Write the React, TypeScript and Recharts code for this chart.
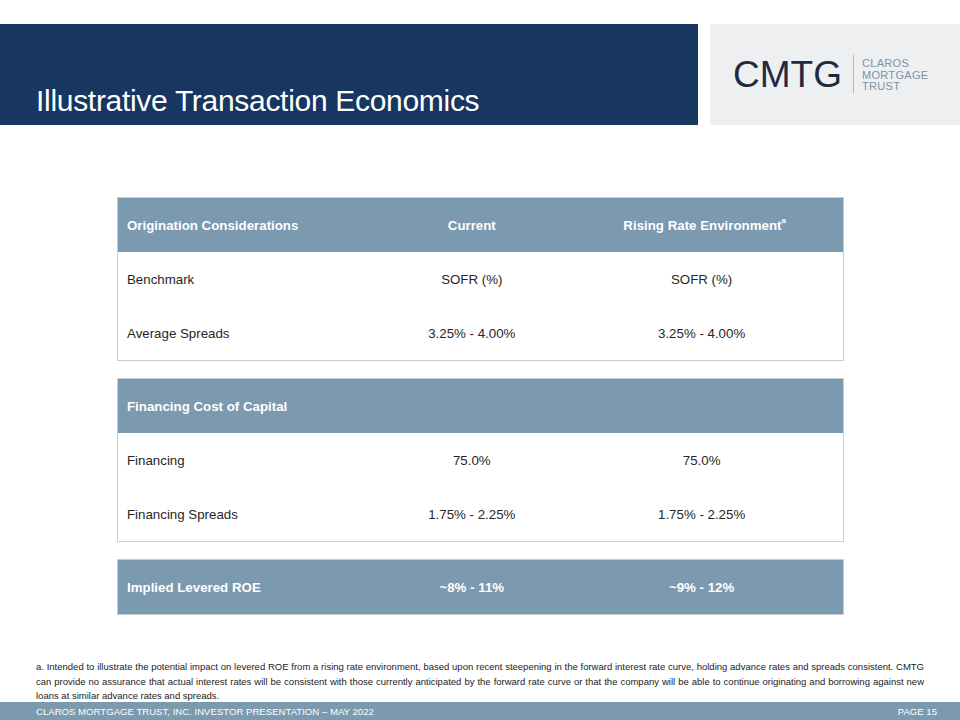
import { Bar, BarChart, XAxis, YAxis } from "recharts";

// table contents, one array per column
const originationLabels = ["Origination Considerations", "Benchmark", "Average Spreads"];
const originationCurrent = ["Current", "SOFR (%)", "3.25% - 4.00%"];
const originationRising = ["Rising Rate Environment", "SOFR (%)", "3.25% - 4.00%"];

const financingLabels = ["Financing Cost of Capital", "Financing", "Financing Spreads"];
const financingCurrent = ["", "75.0%", "1.75% - 2.25%"];
const financingRising = ["", "75.0%", "1.75% - 2.25%"];

const roeLabels = ["Implied Levered ROE"];
const roeCurrent = ["~8% - 11%"];
const roeRising = ["~9% - 12%"];

const footnote =
  "a. Intended to illustrate the potential impact on levered ROE from a rising rate environment, based upon recent steepening in the forward interest rate curve, holding advance rates and spreads consistent. CMTG can provide no assurance that actual interest rates will be consistent with those currently anticipated by the forward rate curve or that the company will be able to continue originating and borrowing against new loans at similar advance rates and spreads.";

const NAVY = "#173660";
const STEEL = "#7b99af";
const FONT = "'Liberation Sans', Arial, sans-serif";

type Row = { label: string; current: string; rising: string; header: boolean; fill: number };

function buildRows(labels: string[], current: string[], rising: string[], allHeader = false): Row[] {
  return labels.map((label, i) => ({
    label,
    current: current[i],
    rising: rising[i],
    header: allHeader || i === 0,
    fill: 1,
  }));
}

function RowShape(props: any) {
  const { x, y, width, height, payload } = props;
  const head = payload.header;
  const color = head ? "#ffffff" : "#262626";
  const weight = head ? 700 : 400;
  const cy = y + height / 2;
  const superA = head && payload.rising === "Rising Rate Environment";
  const common = { fill: color, fontWeight: weight, fontSize: 13.3, fontFamily: FONT, dominantBaseline: "central" as const };
  return (
    <g>
      <rect x={x} y={y} width={width} height={height} fill={head ? STEEL : "#ffffff"} />
      <text x={x + 9} y={cy} {...common}>
        {payload.label}
      </text>
      <text x={x + width * 0.488} y={cy} textAnchor="middle" {...common}>
        {payload.current}
      </text>
      <text x={x + width * 0.805 + (superA ? 3 : 0)} y={cy} textAnchor="middle" {...common}>
        {payload.rising}
        {superA && (
          <tspan fontSize={8} dy={-5}>
            a
          </tspan>
        )}
      </text>
    </g>
  );
}

function TableChart({ rows, top, height }: { rows: Row[]; top: number; height: number }) {
  return (
    <div style={{ position: "absolute", left: 117, top, border: "1px solid #c9cdd1" }}>
      <BarChart
        width={725}
        height={height}
        data={rows}
        layout="vertical"
        margin={{ top: 0, right: 0, bottom: 0, left: 0 }}
        barCategoryGap={0}
      >
        <XAxis type="number" domain={[0, 1]} hide />
        <YAxis type="category" dataKey="label" hide />
        <Bar dataKey="fill" isAnimationActive={false} shape={<RowShape />} />
      </BarChart>
    </div>
  );
}

export default function App() {
  return (
    <div style={{ position: "absolute", left: 0, top: 0, width: 960, height: 720, background: "#fff", overflow: "hidden", fontFamily: FONT }}>
      {/* title band */}
      <div style={{ position: "absolute", left: 0, top: 24, width: 698, height: 101, background: NAVY }} />
      <div style={{ position: "absolute", left: 36, top: 84, color: "#fff", fontSize: 30, lineHeight: "34px", letterSpacing: -0.3, whiteSpace: "nowrap" }}>
        Illustrative Transaction Economics
      </div>

      {/* logo */}
      <div style={{ position: "absolute", left: 710, top: 24, width: 250, height: 101, background: "#eeeff1" }} />
      <div style={{ position: "absolute", left: 733, top: 54, color: "#1f2a44", fontSize: 37, lineHeight: "42px" }}>CMTG</div>
      <div style={{ position: "absolute", left: 853, top: 55, width: 1, height: 38, background: "#a9bac8" }} />
      <div style={{ position: "absolute", left: 862, top: 58, color: "#7a94ab", fontSize: 11, lineHeight: "11.5px", letterSpacing: 0.3 }}>
        CLAROS
        <br />
        MORTGAGE
        <br />
        TRUST
      </div>

      <TableChart rows={buildRows(originationLabels, originationCurrent, originationRising)} top={197} height={162} />
      <TableChart rows={buildRows(financingLabels, financingCurrent, financingRising)} top={378} height={162} />
      <TableChart rows={buildRows(roeLabels, roeCurrent, roeRising, true)} top={559} height={54} />

      {/* footnote */}
      <div
        style={{
          position: "absolute",
          left: 36,
          top: 660,
          width: 888,
          color: "#222",
          fontSize: 9.5,
          lineHeight: "14.5px",
          textAlign: "justify",
        }}
      >
        {footnote}
      </div>

      {/* footer band */}
      <div style={{ position: "absolute", left: 0, top: 702, width: 960, height: 18, background: STEEL }} />
      <div style={{ position: "absolute", left: 36, top: 705, color: "#fff", fontSize: 9.6, lineHeight: "13px" }}>
        CLAROS MORTGAGE TRUST, INC. INVESTOR PRESENTATION – MAY 2022
      </div>
      <div style={{ position: "absolute", right: 23, top: 705, color: "#fff", fontSize: 9.6, lineHeight: "13px" }}>PAGE 15</div>
    </div>
  );
}
